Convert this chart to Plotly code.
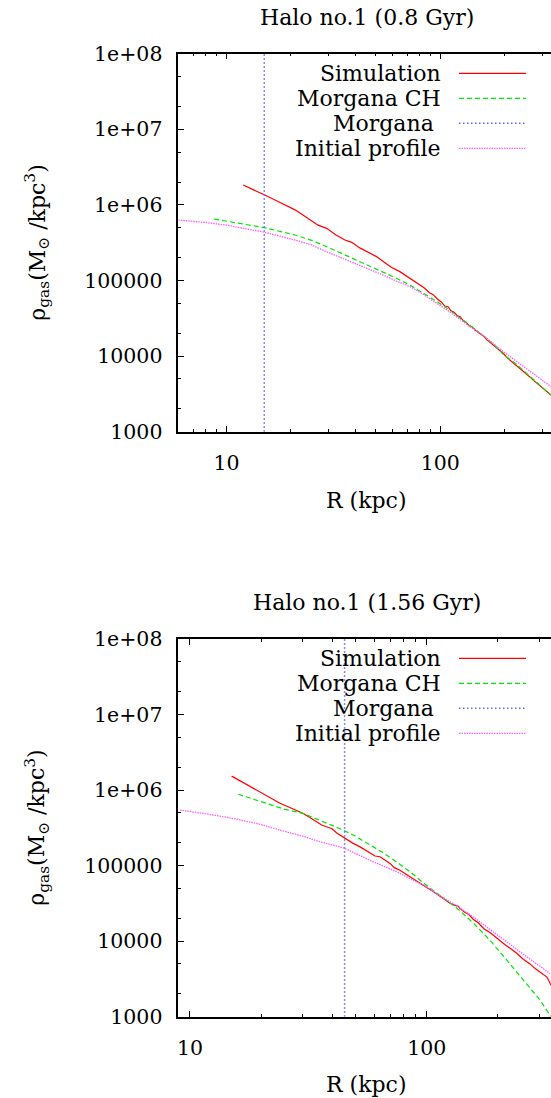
import math
import plotly.graph_objects as go

W, H = 551, 1098
FONT = "DejaVu Serif"
FS_TEXT = 22
FS_TICK = 20.5

# ---------------- data: Halo no.1 at 0.8 Gyr ----------------
sim1_r = [11.96, 13.5, 15.0, 17.5, 20.9, 23.5, 26.8, 29.4, 32.5, 35.8, 38.5, 42.0, 45.2,
          50.3, 55.1, 59.0, 64.7, 70.0, 77.4, 84.0, 89.0, 92.7, 97.0, 101, 105, 108.8,
          112, 116, 120, 124, 128, 132, 137, 141, 146, 153, 159, 165, 172, 180, 188,
          197, 205, 215, 224, 235, 246, 256, 263, 275, 285, 297, 310, 320, 330]
sim1_rho = [1.83e6, 1.58e6, 1.36e6, 1.10e6, 8.6e5, 6.9e5, 5.4e5, 4.9e5, 4.0e5, 3.43e5, 3.2e5,
            2.7e5, 2.4e5, 2.07e5, 1.72e5, 1.50e5, 1.31e5, 1.12e5, 9.3e4, 8.0e4, 6.9e4, 6.5e4,
            5.7e4, 5.2e4, 4.6e4, 4.5e4, 4.0e4, 3.8e4, 3.45e4, 3.32e4, 2.95e4, 2.8e4, 2.5e4,
            2.45e4, 2.2e4, 2.0e4, 1.85e4, 1.65e4, 1.5e4, 1.35e4, 1.2e4, 1.09e4, 9.6e3, 8.6e3,
            7.9e3, 6.9e3, 6.2e3, 5.6e3, 5.3e3, 4.7e3, 4.3e3, 3.9e3, 3.5e3, 3.3e3, 3.05e3]

ch1_r = [8.75, 10, 12, 15, 20.9, 25, 29.4, 35, 40.6, 47, 54.1, 62, 72.1, 83, 96.1, 110,
         122, 138, 160, 180, 197, 225, 260, 295, 330]
ch1_rho = [6.5e5, 6.1e5, 5.6e5, 5.0e5, 4.0e5, 3.4e5, 2.8e5, 2.25e5, 1.87e5, 1.56e5, 1.31e5,
           1.08e5, 8.7e4, 6.9e4, 5.3e4, 4.1e4, 3.3e4, 2.5e4, 1.85e4, 1.38e4, 1.06e4, 8.0e3,
           5.6e3, 4.1e3, 3.05e3]

init1_r = [5.94, 8, 10, 12, 15, 20.9, 25, 29.4, 35, 40.6, 47, 54.1, 62, 72.1, 83, 96, 110,
           138, 160, 197, 240, 280, 330]
init1_rho = [6.3e5, 5.85e5, 5.4e5, 4.95e5, 4.35e5, 3.43e5, 2.95e5, 2.4e5, 1.97e5, 1.65e5,
             1.4e5, 1.18e5, 9.9e4, 8.3e4, 6.6e4, 5.0e4, 3.9e4, 2.45e4, 1.85e4, 1.15e4,
             7.6e3, 5.6e3, 3.94e3]

morgana1_r = 15.0

# ---------------- data: Halo no.1 at 1.56 Gyr ----------------
sim2_r = [15.0, 17, 19.1, 21.5, 24.0, 27, 30.1, 33, 36.0, 38.5, 39.7, 41.7, 45.2, 48.5,
          52.3, 56, 60.5, 63.5, 66, 70, 73, 77.1, 85, 92, 100, 108, 117, 125, 131, 136,
          138, 145, 151, 157, 165, 175, 185, 195, 204, 215, 228, 240, 255, 273, 288, 301,
          312, 322, 328, 335]
sim2_rho = [1.53e6, 1.23e6, 1.0e6, 8.1e5, 6.7e5, 5.7e5, 4.9e5, 4.1e5, 3.45e5, 3.2e5,
            3.1e5, 2.7e5, 2.3e5, 2.0e5, 1.77e5, 1.55e5, 1.34e5, 1.31e5, 1.2e5, 1.07e5,
            9.4e4, 8.7e4, 7.1e4, 6.1e4, 5.2e4, 4.4e4, 3.7e4, 3.2e4, 3.0e4, 2.9e4, 2.71e4,
            2.4e4, 2.25e4, 1.95e4, 1.75e4, 1.45e4, 1.3e4, 1.13e4, 1.03e4, 8.9e3, 7.8e3,
            6.9e3, 5.8e3, 5.0e3, 4.3e3, 3.9e3, 3.6e3, 3.35e3, 3.0e3, 2.6e3]

ch2_r = [16.0, 18, 21.8, 25, 30.1, 35, 40, 44.5, 50, 57.5, 65, 74.6, 85, 96.8, 114, 134,
         157, 185, 218, 256, 301, 335]
ch2_rho = [8.8e5, 7.8e5, 6.3e5, 5.6e5, 4.9e5, 4.0e5, 3.4e5, 2.95e5, 2.45e5, 1.9e5, 1.5e5,
           1.12e5, 8.3e4, 5.9e4, 4.07e4, 2.75e4, 1.75e4, 1.03e4, 5.6e3, 3.04e3, 1.66e3, 1.0e3]

init2_r = [9.07, 12, 15.7, 20, 24, 30, 35.4, 44.5, 57.5, 74.6, 100, 114, 129, 157, 218,
           256, 332]
init2_rho = [5.43e5, 4.8e5, 4.13e5, 3.5e5, 2.95e5, 2.45e5, 2.07e5, 1.72e5, 1.18e5, 8.3e4,
             5.24e4, 3.95e4, 3.16e4, 2.1e4, 9.8e3, 6.7e3, 3.73e3]

morgana2_r = 45.0

# ---------------- axes ticks ----------------
y_tickvals = [1e3, 1e4, 1e5, 1e6, 1e7, 1e8]
y_ticktext = ["1000", "10000", "100000", "1e+06", "1e+07", "1e+08"]
y_minor = [2e3, 5e3, 2e4, 5e4, 2e5, 5e5, 2e6, 5e6, 2e7, 5e7]
x_tickvals = [10, 100]
x_ticktext = ["10", "100"]
x_minor = [6, 7, 8, 9, 20, 30, 40, 50, 60, 70, 80, 90, 200, 300]

series_names = ["Simulation", "Morgana CH", "Morgana", "Initial profile"]
series_colors = ["#ff0000", "#00e600", "#6060ff", "#ff5cff"]
series_width = [1.2, 1.2, 1.5, 1.3]
series_dash = ["solid", "5px,3px", "1.5px,2.5px", "1.5px,1px"]

titles = ["Halo no.1 (0.8 Gyr)", "Halo no.1 (1.56 Gyr)"]
x_ranges = [(5.94, 330), (8.93, 335)]

# pixel layout of the two panels
X_LEFT, X_RIGHT = 178.3, 551
panels_px = [(53.7, 431.7), (639.0, 1016.7)]


def px_x(p):
    return p / W


def px_y(p):
    return 1 - p / H


fig = go.Figure()
panels = [
    (sim1_r, sim1_rho, ch1_r, ch1_rho, init1_r, init1_rho, morgana1_r),
    (sim2_r, sim2_rho, ch2_r, ch2_rho, init2_r, init2_rho, morgana2_r),
]

for i, (sr, srho, cr, crho, ir, irho, mr) in enumerate(panels):
    xa = "x" if i == 0 else "x2"
    ya = "y" if i == 0 else "y3"
    traces = [
        (sr, srho, 0),
        (cr, crho, 1),
        ([mr, mr], [1e3, 1e8], 2),
        (ir, irho, 3),
    ]
    for xs, ys, k in traces:
        fig.add_trace(go.Scatter(
            x=xs, y=ys, mode="lines", xaxis=xa, yaxis=ya, showlegend=False,
            line=dict(color=series_colors[k], width=series_width[k], dash=series_dash[k]),
            hoverinfo="skip",
        ))

tick_font = dict(family=FONT, size=FS_TICK, color="black")
text_font = dict(family=FONT, size=FS_TEXT, color="black")
layout = dict(
    width=W, height=H,
    margin=dict(l=0, r=0, t=0, b=0, pad=0, autoexpand=False),
    paper_bgcolor="white", plot_bgcolor="white",
    showlegend=False,
)

for i, (top_px, bot_px) in enumerate(panels_px):
    xkey = "xaxis" if i == 0 else "xaxis2"
    ykey = "yaxis" if i == 0 else "yaxis3"
    ymirror = "yaxis2" if i == 0 else "yaxis4"
    xanchor = "y" if i == 0 else "y3"
    yanchor = "x" if i == 0 else "x2"
    ydom = [px_y(bot_px), px_y(top_px)]
    lo, hi = x_ranges[i]
    layout[xkey] = dict(
        type="log", range=[math.log10(lo), math.log10(hi)],
        domain=[px_x(X_LEFT), px_x(X_RIGHT)], anchor=xanchor, automargin=False,
        showgrid=False, zeroline=False,
        showline=True, linecolor="black", linewidth=1.5, mirror="ticks",
        ticks="inside", ticklen=6, tickwidth=1, tickcolor="black",
        tickvals=x_tickvals, ticktext=x_ticktext, tickfont=tick_font,
        ticklabelstandoff=12,
        minor=dict(tickvals=x_minor, ticks="inside", ticklen=3, tickcolor="black",
                   tickwidth=1, showgrid=False),
    )
    layout[ykey] = dict(
        type="log", range=[3, 8], domain=ydom, anchor=yanchor, automargin=False,
        showgrid=False, zeroline=False,
        showline=True, linecolor="black", linewidth=1.5, mirror=False,
        ticks="inside", ticklen=6, tickwidth=1, tickcolor="black",
        tickvals=y_tickvals, ticktext=y_ticktext, tickfont=tick_font,
        ticklabelstandoff=10,
        minor=dict(tickvals=y_minor, ticks="inside", ticklen=3, tickcolor="black",
                   tickwidth=1, showgrid=False),
    )
    # right-hand ticks without a frame line
    layout[ymirror] = dict(
        type="log", range=[3, 8], domain=ydom, anchor=yanchor, automargin=False,
        overlaying=ykey.replace("axis", ""), side="right",
        showgrid=False, zeroline=False, showline=False,
        ticks="inside", ticklen=6, tickwidth=1, tickcolor="black",
        tickvals=y_tickvals, showticklabels=False,
        minor=dict(tickvals=y_minor, ticks="inside", ticklen=3, tickcolor="black",
                   tickwidth=1, showgrid=False),
    )

annotations = []
shapes = []
legend_rows = [[73.3, 98.3, 123.3, 148.3], [658.3, 683.3, 708.3, 733.3]]
title_y = [17.6, 602.0]
xtitle_y = [501.0, 1084.0]
ylabel_y = [242.7, 827.8]

for i in range(2):
    annotations.append(dict(
        text=titles[i], x=px_x(367), y=px_y(title_y[i]), xref="paper", yref="paper",
        xanchor="center", yanchor="middle", showarrow=False, font=text_font))
    annotations.append(dict(
        text="R (kpc)", x=px_x(366.4), y=px_y(xtitle_y[i]), xref="paper", yref="paper",
        xanchor="center", yanchor="middle", showarrow=False, font=text_font))
    annotations.append(dict(
        text="ρ<sub>gas</sub>(M<sub>⊙</sub> /kpc<sup>3</sup>)", x=px_x(37),
        y=px_y(ylabel_y[i]), xref="paper", yref="paper", textangle=-90,
        xanchor="center", yanchor="middle", showarrow=False, font=text_font))
    for k, name in enumerate(series_names):
        row_y = legend_rows[i][k]
        label = name + "\u00a0" if name == "Morgana" else name
        annotations.append(dict(
            text=label, x=px_x(443.3), y=px_y(row_y), xref="paper", yref="paper",
            xanchor="right", yanchor="middle", showarrow=False, font=text_font))
        shapes.append(dict(
            type="line", xref="paper", yref="paper",
            x0=px_x(459), x1=px_x(526), y0=px_y(row_y), y1=px_y(row_y),
            line=dict(color=series_colors[k], width=series_width[k], dash=series_dash[k])))

layout["annotations"] = annotations
layout["shapes"] = shapes
fig.update_layout(**layout)
fig.write_html("out.html")
